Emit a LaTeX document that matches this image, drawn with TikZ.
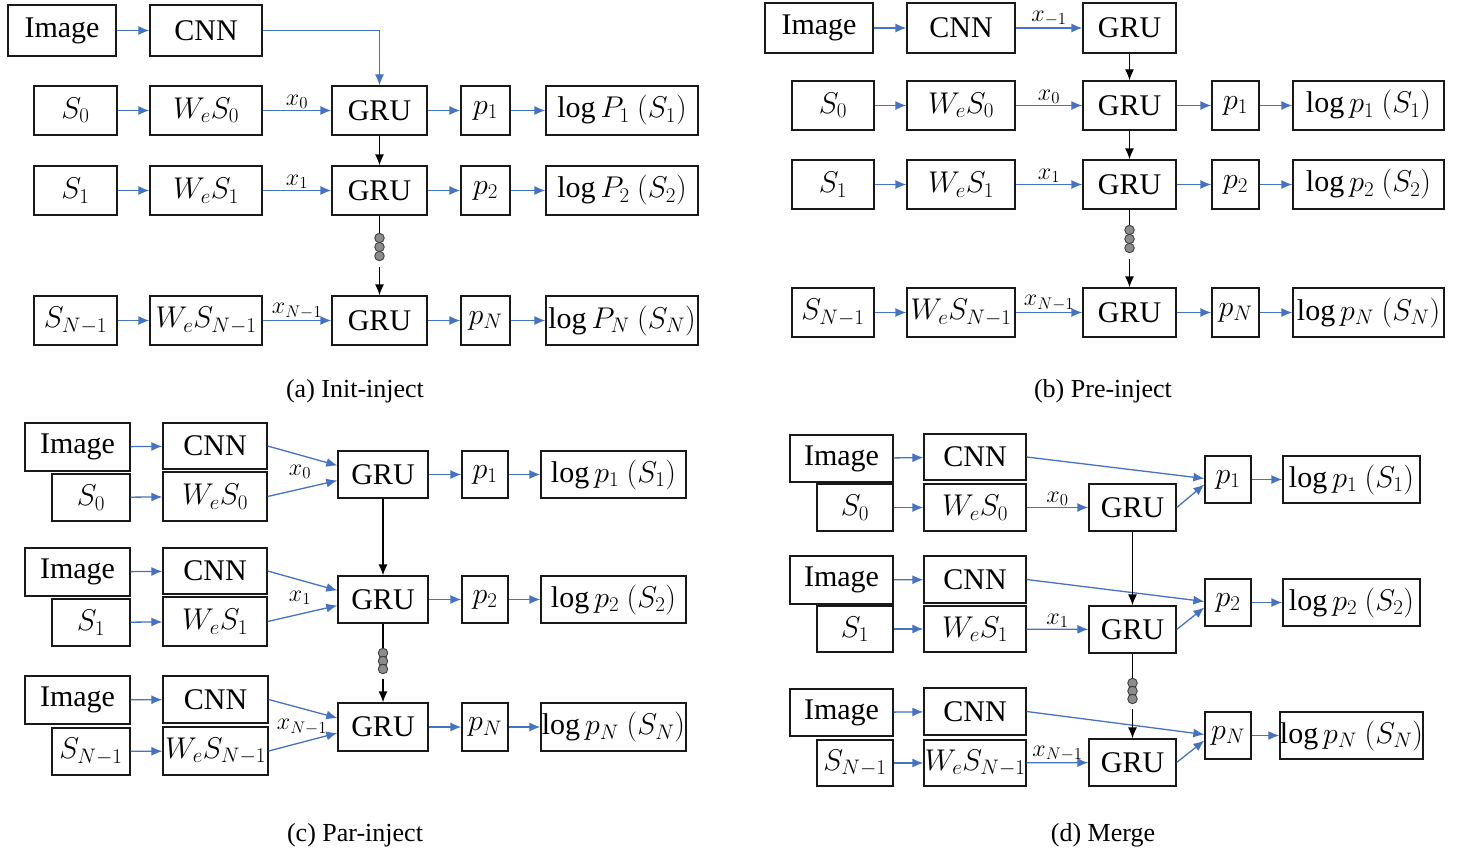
\RequirePackage{fix-cm}
\documentclass[tikz,border=0pt]{standalone}
\usepackage{fontspec}
\setmainfont{Liberation Serif}
\newfontfamily\serifface{Liberation Serif}
\usetikzlibrary{arrows.meta,calc}
\definecolor{flowblue}{RGB}{68,114,196}
\tikzset{
  box/.style={draw=black!90, line width=1.3pt, inner sep=0pt, font=\serifface\fontsize{30}{36}\selectfont},
  feed/.style={draw=flowblue, line width=1.3pt, -{Latex[length=11pt,width=9pt]}},
  chain/.style={draw=black, line width=1.3pt, -{Latex[length=11pt,width=9pt]}},
  plain/.style={draw=black, line width=1.3pt},
  lbl/.style={font=\fontsize{24}{28}\selectfont, inner sep=1pt},
  captext/.style={font=\serifface\fontsize{26}{30}\selectfont},
  dotc/.style={circle, draw=black!75, fill=black!45, line width=0.9pt, minimum size=9.5pt, inner sep=0pt},
}
% box given by its corners: name, x1, y1, x2, y2, text
\newcommand\cellbox[6]{\node[box, minimum width={#4-#2}, minimum height={#5-#3}] (#1) at ({(#2+#4)/2},{(#3+#5)/2}) {#6};}

\begin{document}
\begin{tikzpicture}[x=1pt,y=-1pt]
\useasboundingbox (0,0) rectangle (1461,856);
\fill[white] (0,0) rectangle (1461,856);

% ---------------- (a) Init-inject ----------------
\cellbox{aimg}{8}{5}{116}{56}{Image}
\cellbox{acnn}{150}{5}{262}{56}{CNN}
\cellbox{as1}{34}{86}{117}{135}{$S_0$}
\cellbox{aw1}{150}{86}{262}{135}{$W_eS_0$}
\cellbox{ag1}{332}{86}{427}{135}{GRU}
\cellbox{ap1}{461}{86}{510}{135}{$p_1$}
\cellbox{al1}{546}{86}{698}{135}{$\log P_1\ (S_1)$}
\cellbox{as2}{34}{166}{117}{215}{$S_1$}
\cellbox{aw2}{150}{166}{262}{215}{$W_eS_1$}
\cellbox{ag2}{332}{166}{427}{215}{GRU}
\cellbox{ap2}{461}{166}{510}{215}{$p_2$}
\cellbox{al2}{546}{166}{698}{215}{$\log P_2\ (S_2)$}
\cellbox{as3}{34}{296}{117}{345}{$S_{N-1}$}
\cellbox{aw3}{150}{296}{262}{345}{$W_eS_{N-1}$}
\cellbox{ag3}{332}{296}{427}{345}{GRU}
\cellbox{ap3}{461}{296}{510}{345}{$p_N$}
\cellbox{al3}{546}{296}{698}{345}{$\log P_N\ (S_N)$}
\node[dotc] (ad1) at (379.5,238) {};
\node[dotc] (ad2) at (379.5,247) {};
\node[dotc] (ad3) at (379.5,256) {};

\draw[feed] (aimg) -- (acnn);
\draw[feed] (acnn.east) -| (ag1.north);
\draw[feed] (as1) -- (aw1);
\draw[feed] (aw1) -- node[lbl,above] {$x_0$} (ag1);
\draw[feed] (ag1) -- (ap1);
\draw[feed] (ap1) -- (al1);
\draw[feed] (as2) -- (aw2);
\draw[feed] (aw2) -- node[lbl,above] {$x_1$} (ag2);
\draw[feed] (ag2) -- (ap2);
\draw[feed] (ap2) -- (al2);
\draw[feed] (as3) -- (aw3);
\draw[feed] (aw3) -- node[lbl,above] {$x_{N-1}$} (ag3);
\draw[feed] (ag3) -- (ap3);
\draw[feed] (ap3) -- (al3);
\draw[chain] (ag1) -- (ag2);
\draw[plain] (ag2.south) -- (ad1.north);
\draw[chain] ($(ad3.south)+(0,6)$) -- (ag3.north);
\node[captext] (capa) at (355,391) {(a) Init-inject};

% ---------------- (b) Pre-inject ----------------
\cellbox{bimg}{765}{3}{873}{53}{Image}
\cellbox{bcnn}{907}{3}{1015}{53}{CNN}
\cellbox{bg0}{1083}{3}{1176}{53}{GRU}
\cellbox{bs1}{792}{81}{874}{130}{$S_0$}
\cellbox{bw1}{907}{81}{1015}{130}{$W_eS_0$}
\cellbox{bg1}{1083}{81}{1176}{130}{GRU}
\cellbox{bp1}{1212}{81}{1259}{130}{$p_1$}
\cellbox{bl1}{1293}{81}{1444}{130}{$\log p_1\ (S_1)$}
\cellbox{bs2}{792}{160}{874}{209}{$S_1$}
\cellbox{bw2}{907}{160}{1015}{209}{$W_eS_1$}
\cellbox{bg2}{1083}{160}{1176}{209}{GRU}
\cellbox{bp2}{1212}{160}{1259}{209}{$p_2$}
\cellbox{bl2}{1293}{160}{1444}{209}{$\log p_2\ (S_2)$}
\cellbox{bs3}{792}{288}{874}{337}{$S_{N-1}$}
\cellbox{bw3}{907}{288}{1015}{337}{$W_eS_{N-1}$}
\cellbox{bg3}{1083}{288}{1176}{337}{GRU}
\cellbox{bp3}{1212}{288}{1259}{337}{$p_N$}
\cellbox{bl3}{1293}{288}{1444}{337}{$\log p_N\ (S_N)$}
\node[dotc] (bd1) at (1129.5,230) {};
\node[dotc] (bd2) at (1129.5,239) {};
\node[dotc] (bd3) at (1129.5,248) {};

\draw[feed] (bimg) -- (bcnn);
\draw[feed] (bcnn) -- node[lbl,above] {$x_{-1}$} (bg0);
\draw[chain] (bg0) -- (bg1);
\draw[feed] (bs1) -- (bw1);
\draw[feed] (bw1) -- node[lbl,above] {$x_0$} (bg1);
\draw[feed] (bg1) -- (bp1);
\draw[feed] (bp1) -- (bl1);
\draw[feed] (bs2) -- (bw2);
\draw[feed] (bw2) -- node[lbl,above] {$x_1$} (bg2);
\draw[feed] (bg2) -- (bp2);
\draw[feed] (bp2) -- (bl2);
\draw[feed] (bs3) -- (bw3);
\draw[feed] (bw3) -- node[lbl,above] {$x_{N-1}$} (bg3);
\draw[feed] (bg3) -- (bp3);
\draw[feed] (bp3) -- (bl3);
\draw[chain] (bg1) -- (bg2);
\draw[plain] (bg2.south) -- (bd1.north);
\draw[chain] ($(bd3.south)+(0,6)$) -- (bg3.north);
\node[captext] (capb) at (1103,391) {(b) Pre-inject};

% ---------------- (c) Par-inject ----------------
\cellbox{cimg1}{25}{423}{130}{471}{Image}
\cellbox{ccnn1}{163}{423}{267}{469}{CNN}
\cellbox{cs1}{52}{474}{130}{521}{$S_0$}
\cellbox{cw1}{163}{472}{267}{521}{$W_eS_0$}
\cellbox{cg1}{338}{451}{428}{498}{GRU}
\cellbox{cp1}{462}{451}{508}{498}{$p_1$}
\cellbox{cl1}{541}{451}{686}{498}{$\log p_1\ (S_1)$}
\cellbox{cimg2}{25}{548}{130}{596}{Image}
\cellbox{ccnn2}{163}{548}{267}{594}{CNN}
\cellbox{cs2}{52}{599}{130}{646}{$S_1$}
\cellbox{cw2}{163}{597}{267}{646}{$W_eS_1$}
\cellbox{cg2}{338}{576}{428}{623}{GRU}
\cellbox{cp2}{462}{576}{508}{623}{$p_2$}
\cellbox{cl2}{541}{576}{686}{623}{$\log p_2\ (S_2)$}
\cellbox{cimg3}{25}{676}{130}{724}{Image}
\cellbox{ccnn3}{163}{676}{268}{723}{CNN}
\cellbox{cs3}{52}{728}{130}{775}{$S_{N-1}$}
\cellbox{cw3}{163}{727}{268}{775}{$W_eS_{N-1}$}
\cellbox{cg3}{338}{703}{428}{751}{GRU}
\cellbox{cp3}{462}{703}{508}{751}{$p_N$}
\cellbox{cl3}{541}{703}{686}{751}{$\log p_N\ (S_N)$}
\node[dotc] (cd1) at (383,653) {};
\node[dotc] (cd2) at (383,661) {};
\node[dotc] (cd3) at (383,669) {};

\draw[feed] (cimg1) -- (ccnn1);
\draw[feed] (cs1) -- (cw1);
\draw[feed] (ccnn1.east) -- ($(cg1.west)+(0,-9)$);
\draw[feed] (cw1.east) -- ($(cg1.west)+(0,6)$);
\node[lbl] (cx1) at (300,472) {$x_0$};
\draw[feed] (cg1) -- (cp1);
\draw[feed] (cp1) -- (cl1);
\draw[feed] (cimg2) -- (ccnn2);
\draw[feed] (cs2) -- (cw2);
\draw[feed] (ccnn2.east) -- ($(cg2.west)+(0,-9)$);
\draw[feed] (cw2.east) -- ($(cg2.west)+(0,6)$);
\node[lbl] (cx2) at (300,598) {$x_1$};
\draw[feed] (cg2) -- (cp2);
\draw[feed] (cp2) -- (cl2);
\draw[feed] (cimg3) -- (ccnn3);
\draw[feed] (cs3) -- (cw3);
\draw[feed] (ccnn3.east) -- ($(cg3.west)+(0,-9)$);
\draw[feed] (cw3.east) -- ($(cg3.west)+(0,6)$);
\node[lbl] (cx3) at (302,727) {$x_{N-1}$};
\draw[feed] (cg3) -- (cp3);
\draw[feed] (cp3) -- (cl3);
\draw[chain] (cg1) -- (cg2);
\draw[plain] (cg2.south) -- (cd1.north);
\draw[chain] ($(cd3.south)+(0,5)$) -- (cg3.north);
\node[captext] (capc) at (355,835) {(c) Par-inject};

% ---------------- (d) Merge ----------------
\cellbox{dimg1}{790}{435}{893}{482}{Image}
\cellbox{dcnn1}{924}{434}{1026}{480}{CNN}
\cellbox{ds1}{817}{484}{893}{531}{$S_0$}
\cellbox{dw1}{924}{484}{1026}{531}{$W_eS_0$}
\cellbox{dg1}{1089}{484}{1176}{531}{GRU}
\cellbox{dp1}{1205}{456}{1251}{503}{$p_1$}
\cellbox{dl1}{1283}{456}{1420}{503}{$\log p_1\ (S_1)$}
\cellbox{dimg2}{790}{556}{893}{604}{Image}
\cellbox{dcnn2}{924}{556}{1026}{603}{CNN}
\cellbox{ds2}{817}{606}{893}{652}{$S_1$}
\cellbox{dw2}{924}{606}{1026}{652}{$W_eS_1$}
\cellbox{dg2}{1089}{606}{1176}{653}{GRU}
\cellbox{dp2}{1205}{579}{1251}{626}{$p_2$}
\cellbox{dl2}{1283}{579}{1420}{626}{$\log p_2\ (S_2)$}
\cellbox{dimg3}{790}{689}{893}{736}{Image}
\cellbox{dcnn3}{924}{688}{1026}{735}{CNN}
\cellbox{ds3}{817}{740}{893}{786}{$S_{N-1}$}
\cellbox{dw3}{924}{740}{1026}{786}{$W_eS_{N-1}$}
\cellbox{dg3}{1089}{739}{1176}{786}{GRU}
\cellbox{dp3}{1205}{712}{1251}{759}{$p_N$}
\cellbox{dl3}{1283}{712}{1420}{759}{$\log p_N\ (S_N)$}
\node[dotc] (dd1) at (1132.5,683) {};
\node[dotc] (dd2) at (1132.5,691) {};
\node[dotc] (dd3) at (1132.5,699) {};

\draw[feed] (dimg1) -- (dcnn1);
\draw[feed] (ds1) -- (dw1);
\draw[feed] (dw1) -- node[lbl,above] {$x_0$} (dg1);
\draw[feed] (dcnn1.east) -- ($(dp1.west)+(0,-1)$);
\draw[feed] (dg1.east) -- ($(dp1.west)+(0,5)$);
\draw[feed] (dp1) -- (dl1);
\draw[feed] (dimg2) -- (dcnn2);
\draw[feed] (ds2) -- (dw2);
\draw[feed] (dw2) -- node[lbl,above] {$x_1$} (dg2);
\draw[feed] (dcnn2.east) -- ($(dp2.west)+(0,-1)$);
\draw[feed] (dg2.east) -- ($(dp2.west)+(0,5)$);
\draw[feed] (dp2) -- (dl2);
\draw[feed] (dimg3) -- (dcnn3);
\draw[feed] (ds3) -- (dw3);
\draw[feed] (dw3) -- node[lbl,above] {$x_{N-1}$} (dg3);
\draw[feed] (dcnn3.east) -- ($(dp3.west)+(0,-1)$);
\draw[feed] (dg3.east) -- ($(dp3.west)+(0,5)$);
\draw[feed] (dp3) -- (dl3);
\draw[chain] (dg1) -- (dg2);
\draw[plain] (dg2.south) -- (dd1.north);
\draw[chain] ($(dd3.south)+(0,5)$) -- (dg3.north);
\node[captext] (capd) at (1103,835) {(d) Merge};
\end{tikzpicture}
\end{document}
